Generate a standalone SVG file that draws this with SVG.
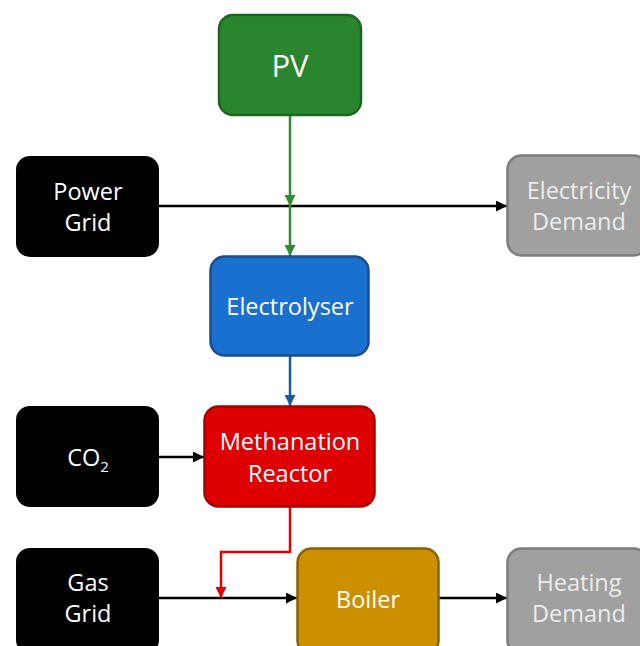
<svg xmlns="http://www.w3.org/2000/svg" width="640" height="646" viewBox="0 0 640 646">
<style>
text{font-family:"Open Sans","Noto Sans",sans-serif;font-size:23.5px;fill:#fff;text-anchor:middle}
text.big{font-size:31px}
.g text{fill:#ececec}
.ln{fill:none;stroke-width:2.5}
</style>
<defs>
<marker id="ak" viewBox="0 0 10 10" refX="10" refY="5" markerWidth="4.4" markerHeight="4.4" orient="auto" markerUnits="strokeWidth"><path d="M0,0L10,5L0,10Z" fill="#000"/></marker>
<marker id="ag" viewBox="0 0 10 10" refX="10" refY="5" markerWidth="4.4" markerHeight="4.4" orient="auto" markerUnits="strokeWidth"><path d="M0,0L10,5L0,10Z" fill="#2e8b2e"/></marker>
<marker id="ab" viewBox="0 0 10 10" refX="10" refY="5" markerWidth="4.4" markerHeight="4.4" orient="auto" markerUnits="strokeWidth"><path d="M0,0L10,5L0,10Z" fill="#1b5aa0"/></marker>
<marker id="ar" viewBox="0 0 10 10" refX="10" refY="5" markerWidth="4.4" markerHeight="4.4" orient="auto" markerUnits="strokeWidth"><path d="M0,0L10,5L0,10Z" fill="#e00000"/></marker>
</defs>
<rect width="640" height="646" fill="#fff"/>
<g id="connectors">
<path class="ln" d="M159,206H507" stroke="#000" marker-end="url(#ak)"/>
<path class="ln" d="M290,115V206" stroke="#2e8b2e" marker-end="url(#ag)"/>
<path class="ln" d="M290,206V256" stroke="#2e8b2e" marker-end="url(#ag)"/>
<path class="ln" d="M290,356V406" stroke="#1b5aa0" marker-end="url(#ab)"/>
<path class="ln" d="M159,457H204" stroke="#000" marker-end="url(#ak)"/>
<path class="ln" d="M159,598H297" stroke="#000" marker-end="url(#ak)"/>
<path class="ln" d="M439,598H507" stroke="#000" marker-end="url(#ak)"/>
<path class="ln" d="M290,507V552H221V598" stroke="#e00000" marker-end="url(#ar)"/>
</g>
<g id="pv"><rect x="219" y="15" width="142" height="100" rx="14" fill="#2a862e" stroke="#1d6421" stroke-width="2.5"/><text class="big" x="290" y="77">PV</text></g>
<g id="power-grid"><rect x="16" y="156" width="143" height="101" rx="14" fill="#000"/><text x="88" y="200">Power</text><text x="88" y="231">Grid</text></g>
<g id="electricity-demand" class="g"><rect x="507.5" y="155.5" width="140" height="100" rx="14" fill="#a0a0a0" stroke="#7c7c7c" stroke-width="2.5"/><text x="579" y="199">Electricity</text><text x="579" y="230">Demand</text></g>
<g id="electrolyser"><rect x="210.5" y="256.5" width="158" height="99" rx="14" fill="#1a70cf" stroke="#1b4e88" stroke-width="2.5"/><text x="290" y="315">Electrolyser</text></g>
<g id="co2"><rect x="16" y="406" width="143" height="101" rx="14" fill="#000"/><text x="88" y="466">CO<tspan font-size="15" dy="6">2</tspan></text></g>
<g id="methanation"><rect x="204.5" y="406.5" width="170" height="100" rx="14" fill="#de0000" stroke="#a30000" stroke-width="2.5"/><text x="290" y="450">Methanation</text><text x="290" y="482">Reactor</text></g>
<g id="gas-grid"><rect x="16" y="548" width="143" height="106" rx="14" fill="#000"/><text x="88" y="591">Gas</text><text x="88" y="622">Grid</text></g>
<g id="boiler"><rect x="297.5" y="548.5" width="141" height="106" rx="14" fill="#cc8f00" stroke="#8a6300" stroke-width="2.5"/><text x="368" y="608">Boiler</text></g>
<g id="heating-demand" class="g"><rect x="507.5" y="548.5" width="140" height="106" rx="14" fill="#a0a0a0" stroke="#7c7c7c" stroke-width="2.5"/><text x="579" y="591">Heating</text><text x="579" y="622">Demand</text></g>
</svg>
